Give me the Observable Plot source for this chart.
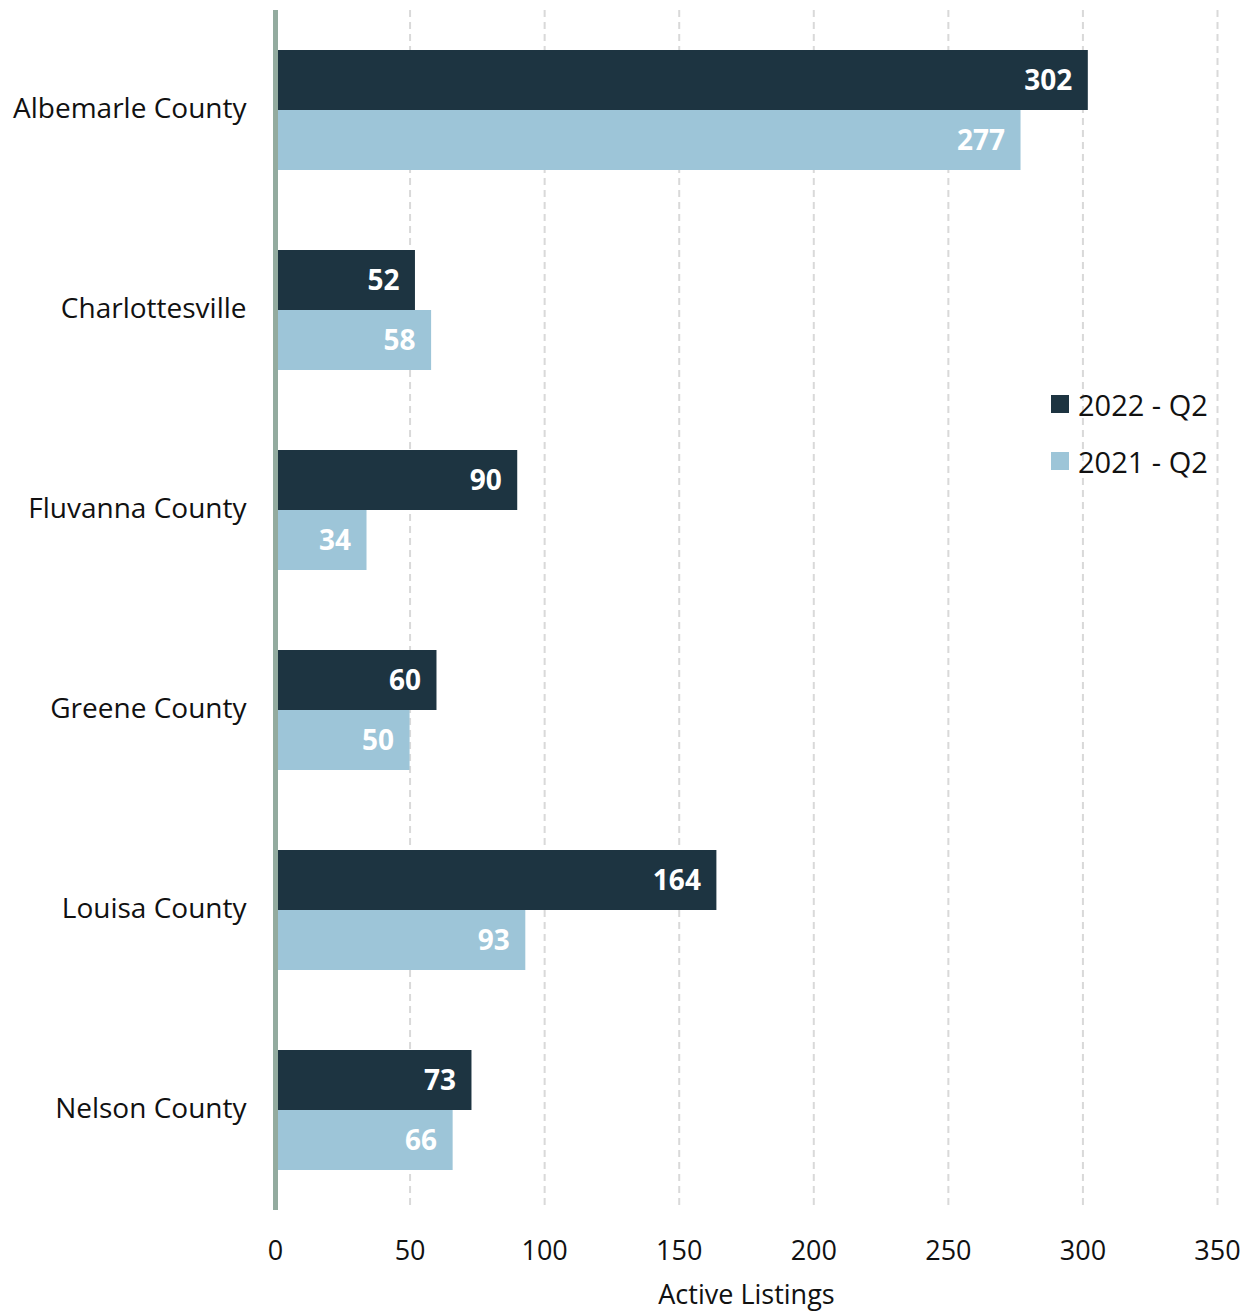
<!DOCTYPE html>
<html>
<head>
<meta charset="utf-8">
<script src="https://cdn.jsdelivr.net/npm/d3@7"></script>
<script src="https://cdn.jsdelivr.net/npm/@observablehq/plot@0.6"></script>
<style>
  html, body { margin: 0; padding: 0; background: #fff; }
  #wrap { position: relative; width: 1252px; height: 1311px; font-family: "Open Sans", sans-serif; }
  #legend { position: absolute; left: 1051px; top: 385px; font-size: 29px; color: #111; }
  .item { display: flex; align-items: center; height: 38px; margin-bottom: 19px; }
  .sw { width: 18px; height: 18px; margin-right: 9px; }
</style>
</head>
<body>
<div id="wrap">
  <div id="chart"></div>
  <div id="legend"></div>
</div>
<script>
const counties = ["Albemarle County", "Charlottesville", "Fluvanna County", "Greene County", "Louisa County", "Nelson County"];
const q2022 = [302, 52, 90, 60, 164, 73];
const q2021 = [277, 58, 34, 50, 93, 66];
const seriesNames = ["2022 - Q2", "2021 - Q2"];
const seriesColors = ["#1d3441", "#9dc5d8"];
const xTicks = [0, 50, 100, 150, 200, 250, 300, 350];
const xTitle = "Active Listings";

const W = 1252, H = 1311, mT = 10, mB = 101, mL = 275, mR = 35;
const step = (H - mT - mB) / counties.length;
const bw = step * 0.6;
const half = bw / 2;

const d22 = counties.map((c, i) => ({county: c, value: q2022[i]}));
const d21 = counties.map((c, i) => ({county: c, value: q2021[i]}));

const chart = Plot.plot({
  width: W,
  height: H,
  marginTop: mT,
  marginBottom: mB,
  marginLeft: mL,
  marginRight: mR,
  style: {fontFamily: "Open Sans", color: "#111", background: "#fff"},
  x: {domain: [0, 350]},
  y: {domain: counties, paddingInner: 0.4, paddingOuter: 0.2},
  marks: [
    Plot.ruleX(xTicks.slice(1), {stroke: "#d9d9d9", strokeWidth: 2, strokeDasharray: "7,5"}),
    Plot.barX(d22, {x: "value", y: "county", fill: seriesColors[0], insetBottom: half}),
    Plot.barX(d21, {x: "value", y: "county", fill: seriesColors[1], insetTop: half}),
    Plot.text(d22, {x: "value", y: "county", text: d => String(d.value), dy: -half / 2 + 1, dx: -16, textAnchor: "end", fill: "white", fontWeight: "bold", fontSize: 28}),
    Plot.text(d21, {x: "value", y: "county", text: d => String(d.value), dy: half / 2 + 1, dx: -16, textAnchor: "end", fill: "white", fontWeight: "bold", fontSize: 28}),
    Plot.ruleX([0], {stroke: "#93ab9f", strokeWidth: 5}),
    Plot.axisX({ticks: xTicks, tickSize: 0, tickPadding: 30, fontSize: 27, label: null, tickFormat: d => String(d)}),
    Plot.text([xTitle], {frameAnchor: "bottom", text: d => d, dy: 93, fontSize: 27, fill: "#111"}),
    Plot.axisY({tickSize: 0, tickPadding: 29, fontSize: 28, dy: -1, label: null})
  ]
});
document.getElementById("chart").appendChild(chart);

const legend = document.getElementById("legend");
seriesNames.forEach((n, i) => {
  const it = document.createElement("div");
  it.className = "item";
  const sw = document.createElement("div");
  sw.className = "sw";
  sw.style.background = seriesColors[i];
  const t = document.createElement("span");
  t.textContent = n;
  it.appendChild(sw);
  it.appendChild(t);
  legend.appendChild(it);
});
</script>
</body>
</html>
